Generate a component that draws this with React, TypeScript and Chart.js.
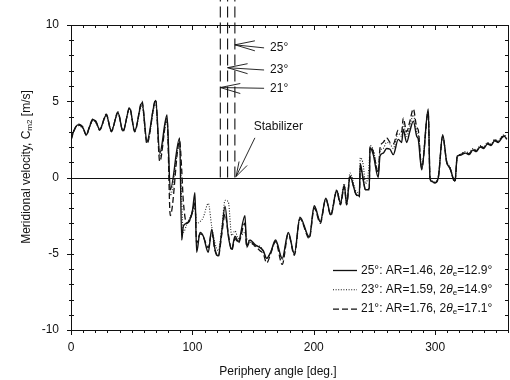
import { useEffect, useRef } from 'react';
import { Chart, registerables } from 'chart.js';

Chart.register(...registerables);

// Periphery angle [deg.]
const ANGLES = [
  0, 2.5, 5.8, 9.9, 12.6, 15.4, 18.1, 20.8, 23.6, 29.1, 33.2, 38.7, 42.8, 48.3, 52.5, 58.5, 62.6, 69.8, 73.1, 79.1,
  81.8, 89.5, 91.2, 92.5, 95.3, 98, 100.2, 102.1, 103.5, 106.3, 109, 113.1, 115.9, 118.6, 121.3, 124.1, 126.9, 129.6, 132.4, 135.1,
  137.8, 143.3, 144.7, 147.4, 151.6, 155.7, 158.4, 161.2, 164.5, 168.5, 174, 179, 184, 188.6, 196.3, 200.4, 205.4, 209.9, 214, 218.9,
  222, 225.1, 227.1, 229.8, 234.8, 237.5, 238.3, 240.8, 242.5, 245.7, 246.3, 249, 253.1, 254.5, 257.2, 260, 262.8, 265.5, 269.6, 272.4,
  273.7, 276.5, 279.2, 282, 284.8, 286.1, 288.9, 294.3, 295.7, 297.1, 299.8, 302.6, 306.2, 309.5, 312.2, 316.3, 318.2, 320.4, 325, 328,
  331, 334, 337, 340, 343, 346, 349, 352, 355, 357, 359,
];

// 25°: AR=1.46 (solid)
const V25 = [
  2.5, 3.1, 3.45, 3.25, 2.8, 3.35, 3.8, 3.6, 3.15, 4.1, 3.05, 4.25, 3.05, 4.55, 3.05, 4.9, 2.4, 5.05, 1.6, 4.1,
  -0.8, 2.6, -4.1, -3.2, -3.0, -2.75, -2.1, -1.0, -4.9, -3.6, -3.85, -4.9, -3.4, -4.7, -5.15, -3.6, -1.9, -3.85, -4.7, -3.85,
  -4.2, -2.5, -4.5, -4.1, -4.4, -4.6, -4.8, -5.3, -4.9, -4.1, -5.3, -3.6, -5.0, -2.6, -3.9, -1.85, -2.9, -1.35, -2.45, -0.85,
  -1.7, -0.5, -1.75, 0.1, -1.1, -1.2, 0.9, -0.2, -0.8, -0.8, 1.95, 1.5, 0.0, 1.4, 1.6, 1.9, 1.85, 1.5, 2.5, 2.3,
  3.15, 2.3, 3.05, 3.7, 2.7, 2.5, 0.5, 4.5, 0.0, -0.25, -0.35, 0.0, 2.8, 1.0, 0.6, -0.25, 1.4, 1.45, 1.6, 1.5,
  1.8, 1.7, 2.0, 1.9, 2.2, 2.1, 2.4, 2.3, 2.6, 2.7, 2.5,
];

// 23°: AR=1.59 (dotted)
const V23 = [
  2.55, 3.15, 3.4, 3.2, 2.85, 3.3, 3.75, 3.55, 3.2, 4.0, 3.1, 4.2, 3.1, 4.45, 3.1, 4.7, 2.3, 4.8, 1.4, 3.7,
  -1.2, 2.2, -1.5, -3.6, -3.1, -2.6, -2.3, -2.0, -3.0, -2.9, -2.6, -1.7, -3.2, -4.3, -4.8, -3.4, -1.5, -1.6, -3.8, -3.5,
  -4.0, -3.6, -4.0, -4.2, -4.5, -4.5, -4.9, -5.3, -4.9, -4.2, -5.4, -3.7, -5.0, -2.7, -3.9, -1.9, -2.9, -1.4, -2.4, -0.8,
  -1.6, -0.4, -1.6, 0.3, -0.9, -1.0, 1.3, 0.8, -0.4, 1.0, 2.1, 1.8, 0.4, 1.7, 1.9, 2.3, 2.2, 1.9, 2.9, 2.7,
  3.5, 2.7, 3.4, 4.1, 3.0, 2.8, 0.8, 4.3, 0.1, -0.2, -0.3, 0.1, 2.7, 1.1, 0.7, -0.2, 1.3, 1.5, 1.7, 1.6,
  1.9, 1.8, 2.1, 2.0, 2.3, 2.2, 2.5, 2.4, 2.7, 2.8, 2.6,
];

// 21°: AR=1.76 (dashed)
const V21 = [
  2.45, 3.05, 3.5, 3.3, 2.75, 3.4, 3.85, 3.65, 3.1, 4.15, 3.0, 4.3, 3.0, 4.6, 3.0, 5.0, 2.2, 5.1, 1.05, 3.9,
  -2.5, 2.4, 0.5, -1.5, -3.0, -2.8, -2.2, -1.6, -4.3, -3.7, -3.9, -4.6, -3.6, -4.8, -5.2, -3.8, -2.4, -3.7, -4.8, -4.0,
  -4.3, -3.0, -4.6, -4.2, -4.5, -4.8, -5.0, -5.6, -5.0, -4.2, -5.7, -3.7, -5.1, -2.7, -4.0, -2.0, -3.0, -1.4, -2.5, -0.9,
  -1.8, -0.6, -1.8, 0.0, -1.1, -1.3, 0.6, -0.1, -0.8, -0.7, 2.0, 1.7, 0.3, 1.9, 2.3, 2.6, 2.3, 2.2, 3.1, 3.0,
  3.9, 3.0, 3.7, 4.5, 3.3, 3.1, 0.6, 4.3, 0.0, -0.3, -0.35, 0.0, 2.7, 1.0, 0.6, -0.3, 1.4, 1.5, 1.65, 1.55,
  1.85, 1.75, 2.05, 1.95, 2.25, 2.15, 2.45, 2.35, 2.65, 2.75, 2.55,
];

const X_LABELS = [0, 100, 200, 300];
const Y_LABELS = [-10, -5, 0, 5, 10];

// Stabilizer positions (21°, 23°, 25°)
const STAB_ANGLES = [123, 129, 135];
const STAB_NAMES = ['21°', '23°', '25°'];
const STAB_TOP = 12.5;
const STAB_TIP_Y = [5.9, 7.2, 8.7];
const STAB_TEXT_Y = [5.85, 7.05, 8.5];
const STAB_TEXT_X = 164;
const STABILIZER_TEXT = { x: 150.5, y: 3.3, tipX: 136, tipY: 0, tailX: 151.5, tailY: 2.6 };

const LEGEND_ROWS = [
  { pre: '25°: AR=1.46, 2', post: '=12.9°', dash: [] as number[], width: 1.3 },
  { pre: '23°: AR=1.59, 2', post: '=14.9°', dash: [1, 1.6], width: 1.1 },
  { pre: '21°: AR=1.76, 2', post: '=17.1°', dash: [6, 3], width: 1.3 },
];

const FONT = '"Liberation Sans", Arial, Helvetica, sans-serif';
const INK = '#111';

type Part = { t: string; size: number; italic?: boolean; dy?: number };

function drawParts(ctx: CanvasRenderingContext2D, parts: Part[], x: number, y: number, align: 'left' | 'center') {
  const widths = parts.map((p) => {
    ctx.font = `${p.italic ? 'italic ' : ''}${p.size}px ${FONT}`;
    return ctx.measureText(p.t).width;
  });
  const total = widths.reduce((s, w) => s + w, 0);
  let cx = align === 'center' ? x - total / 2 : x;
  ctx.textAlign = 'left';
  ctx.textBaseline = 'middle';
  parts.forEach((p, i) => {
    ctx.font = `${p.italic ? 'italic ' : ''}${p.size}px ${FONT}`;
    ctx.fillText(p.t, cx, y + (p.dy || 0));
    cx += widths[i];
  });
}

const decorPlugin = {
  id: 'decor',
  afterDraw(chart: any) {
    const { ctx, chartArea: a, scales } = chart;
    const xs = scales.x;
    const ys = scales.y;
    ctx.save();
    ctx.strokeStyle = INK;
    ctx.fillStyle = INK;
    ctx.lineWidth = 1;
    ctx.setLineDash([]);

    // zero line
    const y0 = Math.round(ys.getPixelForValue(0)) + 0.5;
    ctx.beginPath();
    ctx.moveTo(a.left, y0);
    ctx.lineTo(a.right, y0);
    ctx.stroke();

    // frame
    ctx.strokeRect(a.left + 0.5, a.top + 0.5, a.right - a.left, a.bottom - a.top);

    // x ticks
    ctx.beginPath();
    for (let v = 0; v <= 360; v += 10) {
      const px = Math.round(xs.getPixelForValue(v)) + 0.5;
      const major = v % 100 === 0;
      ctx.moveTo(px, a.bottom);
      ctx.lineTo(px, a.bottom + (major ? 5 : 3));
      ctx.moveTo(px, a.top);
      ctx.lineTo(px, a.top + (major ? 5 : 3));
    }
    // y ticks
    for (let v = -10; v <= 10; v += 1) {
      const py = Math.round(ys.getPixelForValue(v)) + 0.5;
      const major = v % 5 === 0;
      ctx.moveTo(a.left - (major ? 4 : 2), py);
      ctx.lineTo(a.left + 3, py);
      ctx.moveTo(a.right, py);
      ctx.lineTo(a.right - 3, py);
    }
    ctx.stroke();

    // stabilizer arrows and labels
    ctx.lineWidth = 0.9;
    STAB_ANGLES.forEach((ang, i) => {
      const tx = xs.getPixelForValue(ang);
      const ty = ys.getPixelForValue(STAB_TIP_Y[i]);
      const lx = xs.getPixelForValue(STAB_TEXT_X);
      const ly = ys.getPixelForValue(STAB_TEXT_Y[i]);
      ctx.beginPath();
      ctx.moveTo(tx, ty);
      ctx.lineTo(lx - 6, ly);
      ctx.moveTo(tx, ty);
      ctx.lineTo(tx + 20, ty - 4);
      ctx.moveTo(tx, ty);
      ctx.lineTo(tx + 20, ty + 6);
      ctx.stroke();
      drawParts(ctx, [{ t: STAB_NAMES[i], size: 12 }], lx, ly, 'left');
    });

    // "Stabilizer"
    const s = STABILIZER_TEXT;
    const sx = xs.getPixelForValue(s.x);
    const sy = ys.getPixelForValue(s.y);
    drawParts(ctx, [{ t: 'Stabilizer', size: 12 }], sx, sy, 'left');
    const tipx = xs.getPixelForValue(s.tipX);
    const tipy = ys.getPixelForValue(s.tipY) - 1;
    const tailx = xs.getPixelForValue(s.tailX);
    const taily = ys.getPixelForValue(s.tailY);
    ctx.beginPath();
    ctx.moveTo(tailx, taily);
    ctx.lineTo(tipx, tipy);
    ctx.moveTo(tipx, tipy);
    ctx.lineTo(tipx + 3, tipy - 15);
    ctx.moveTo(tipx, tipy);
    ctx.lineTo(tipx + 11, tipy - 11);
    ctx.stroke();

    // legend
    LEGEND_ROWS.forEach((row, i) => {
      const ry = a.bottom - 59.5 + i * 19.3;
      const lx0 = a.right - 175;
      ctx.save();
      ctx.lineWidth = row.width;
      ctx.setLineDash(row.dash);
      ctx.beginPath();
      ctx.moveTo(lx0, ry);
      ctx.lineTo(lx0 + 24, ry);
      ctx.stroke();
      ctx.restore();
      drawParts(
        ctx,
        [
          { t: row.pre, size: 12 },
          { t: 'θ', size: 12, italic: true },
          { t: 'e', size: 8, dy: 3 },
          { t: row.post, size: 12 },
        ],
        lx0 + 28,
        ry,
        'left'
      );
    });

    // axis titles
    drawParts(ctx, [{ t: 'Periphery angle [deg.]', size: 12 }], 278, 372, 'center');
    ctx.save();
    ctx.translate(27, 167);
    ctx.rotate(-Math.PI / 2);
    drawParts(
      ctx,
      [
        { t: 'Meridional velocity, C', size: 12 },
        { t: 'm2', size: 8, dy: 3 },
        { t: ' [m/s]', size: 12 },
      ],
      0,
      0,
      'center'
    );
    ctx.restore();

    ctx.restore();
  },
};

export default function App() {
  const ref = useRef<HTMLCanvasElement | null>(null);

  useEffect(() => {
    document.body.style.margin = '0';
    const canvas = ref.current;
    if (!canvas) return;
    const pts = (vals: number[]) => ANGLES.map((a, i) => ({ x: a, y: vals[i] }));
    const chart = new Chart(canvas, {
      type: 'line',
      data: {
        datasets: [
          { data: pts(V25), borderColor: INK, borderWidth: 1.4, cubicInterpolationMode: 'monotone' },
          { data: pts(V23), borderColor: '#222', borderWidth: 1.1, borderDash: [1, 1.6], cubicInterpolationMode: 'monotone' },
          { data: pts(V21), borderColor: INK, borderWidth: 1.3, borderDash: [6, 3], cubicInterpolationMode: 'monotone' },
          ...STAB_ANGLES.map((ang) => ({
            data: [
              { x: ang, y: 0 },
              { x: ang, y: STAB_TOP },
            ],
            borderColor: INK,
            borderWidth: 1.1,
            borderDash: [11, 5],
            tension: 0,
            clip: false as any,
          })),
        ] as any,
      },
      options: {
        animation: false,
        responsive: false,
        maintainAspectRatio: false,
        layout: { padding: { left: 0, right: 2, top: 25, bottom: 0 } },
        elements: { point: { radius: 0 } },
        plugins: { legend: { display: false }, tooltip: { enabled: false } },
        scales: {
          x: {
            type: 'linear',
            min: 0,
            max: 360,
            afterFit: (sc: any) => {
              sc.height = 50;
            },
            afterBuildTicks: (sc: any) => {
              sc.ticks = X_LABELS.map((v) => ({ value: v }));
            },
            grid: { display: false, drawTicks: false },
            border: { display: false },
            ticks: { padding: 10, color: INK, font: { family: FONT, size: 12 }, maxRotation: 0, autoSkip: false },
          },
          y: {
            type: 'linear',
            min: -10,
            max: 10,
            afterFit: (sc: any) => {
              sc.width = 71;
            },
            afterBuildTicks: (sc: any) => {
              sc.ticks = Y_LABELS.map((v) => ({ value: v }));
            },
            grid: { display: false, drawTicks: false },
            border: { display: false },
            ticks: { padding: 12, color: INK, font: { family: FONT, size: 12 }, autoSkip: false },
          },
        },
      },
      plugins: [decorPlugin],
    });
    return () => chart.destroy();
  }, []);

  return (
    <div style={{ width: 510, height: 380, background: '#fff' }}>
      <canvas ref={ref} width={510} height={380} style={{ display: 'block', width: 510, height: 380 }} />
    </div>
  );
}
